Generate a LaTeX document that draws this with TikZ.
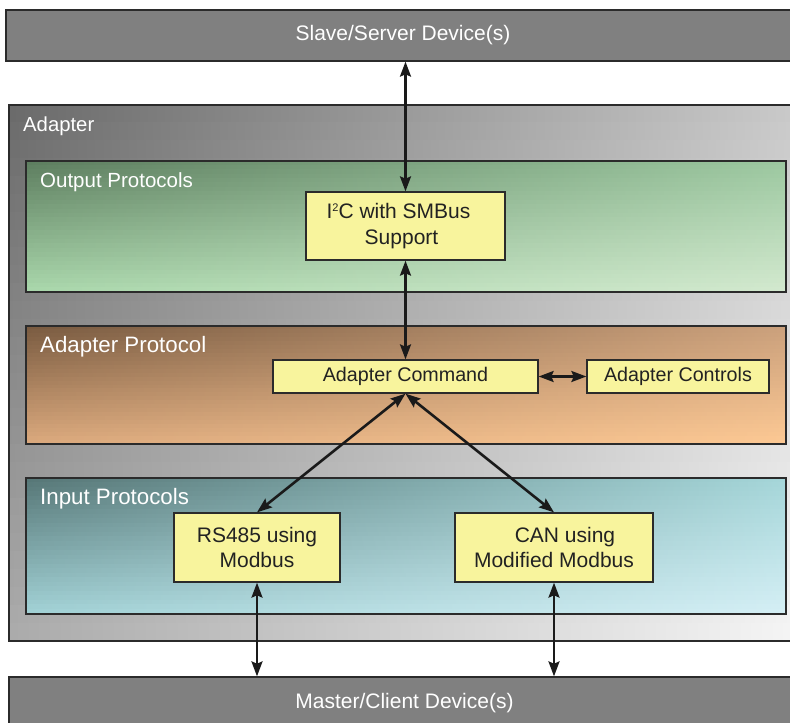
\documentclass[tikz,border=0pt]{standalone}
\usepackage{fontspec}
\setmainfont{Liberation Sans}
\usetikzlibrary{arrows.meta}
\definecolor{edge}{HTML}{2B2B2B}
\definecolor{bargray}{HTML}{808080}
\definecolor{boxyellow}{HTML}{F8F49D}
\definecolor{arrowc}{HTML}{1A1A1A}
\definecolor{txtdark}{HTML}{222222}
% corner colours of the shaded panels
\definecolor{adTL}{RGB}{106,106,106}\definecolor{adTR}{RGB}{202,202,202}
\definecolor{adBL}{RGB}{172,172,172}\definecolor{adBR}{RGB}{246,246,246}
\definecolor{gTL}{RGB}{93,125,95}\definecolor{gTR}{RGB}{156,200,160}
\definecolor{gBL}{RGB}{170,216,172}\definecolor{gBR}{RGB}{211,233,207}
\definecolor{bTL}{RGB}{120,90,64}\definecolor{bTR}{RGB}{202,160,124}
\definecolor{bBL}{RGB}{220,170,126}\definecolor{bBR}{RGB}{253,201,148}
\definecolor{tTL}{RGB}{86,118,118}\definecolor{tTR}{RGB}{165,214,217}
\definecolor{tBL}{RGB}{162,210,214}\definecolor{tBR}{RGB}{213,239,245}
% bilinear panel shading built from thin horizontal strips
% #1 x0, #2 y0, #3 x1, #4 y1, #5 TL, #6 TR, #7 BL, #8 BR
\newcommand\shadepanel[8]{%
  \foreach \i in {0,...,29}{%
    \pgfmathsetmacro\ya{#2+(#4-#2)*\i/30}%
    \pgfmathsetmacro\yb{#2+(#4-#2)*(\i+1)/30+0.6}%
    \pgfmathtruncatemacro\pp{(\i+0.5)*100/30}%
    \path[left color=#7!\pp!#5, right color=#8!\pp!#6] (#1,\ya) rectangle (#3,\yb);
  }}
\begin{document}
\begin{tikzpicture}[x=1pt,y=-1pt,
  region/.style={draw=edge, line width=1.3pt, inner sep=0pt, anchor=center},
  bar/.style={region, fill=bargray, text=white, font=\fontsize{21}{25}\selectfont},
  ybox/.style={draw=edge, fill=boxyellow, line width=1.3pt, inner sep=0pt, align=center, text=txtdark},
  lbl/.style={anchor=west, text=white, inner sep=0pt},
  conn/.style={draw=arrowc, line width=2.6pt, {Stealth[length=15pt,width=11pt,inset=2.5pt]}-{Stealth[length=15pt,width=11pt,inset=2.5pt]}}
]
\useasboundingbox (0,0) rectangle (790,723);
\clip (0,0) rectangle (790,723);
\fill[white] (0,0) rectangle (790,723);

% bars
\node[bar, minimum width=794pt, minimum height=51pt] (top) at (403,35.5) {Slave/Server Device(s)};
\node[bar, minimum width=791pt, minimum height=52pt] (bot) at (404.5,703) {Master/Client Device(s)};

% adapter
\shadepanel{9}{105}{800}{641}{adTL}{adTR}{adBL}{adBR}
\node[region, minimum width=791pt, minimum height=536pt] (adapter) at (404.5,373) {};
\node[lbl, font=\fontsize{20.3}{24}\selectfont] (adlbl) at (23,126) {Adapter};

% output protocols
\shadepanel{26}{161}{786}{292}{gTL}{gTR}{gBL}{gBR}
\node[region, minimum width=760pt, minimum height=131pt] (outp) at (406,226.5) {};
\node[lbl, font=\fontsize{20.5}{24}\selectfont] (outlbl) at (40,182) {Output Protocols};

% adapter protocol
\shadepanel{26}{326}{786}{444}{bTL}{bTR}{bBL}{bBR}
\node[region, minimum width=760pt, minimum height=118pt] (adp) at (406,385) {};
\node[lbl, font=\fontsize{22.3}{26}\selectfont] (adplbl) at (40,347) {Adapter Protocol};

% input protocols
\shadepanel{26}{478}{786}{614}{tTL}{tTR}{tBL}{tBR}
\node[region, minimum width=760pt, minimum height=136pt] (inp) at (406,546) {};
\node[lbl, font=\fontsize{22.3}{26}\selectfont] (inplbl) at (40,499) {Input Protocols};

% yellow boxes
\node[ybox, minimum width=199pt, minimum height=68pt, font=\fontsize{21}{26}\selectfont] (i2c) at (405.5,226) {I\raisebox{6.5pt}{\fontsize{11}{11}\selectfont 2}C with SMBus\hspace*{14pt}\\Support\hspace*{8pt}};
\node[ybox, minimum width=265pt, minimum height=33pt, font=\fontsize{19.7}{24}\selectfont] (cmd) at (405.5,376.5) {Adapter Command};
\node[ybox, minimum width=182pt, minimum height=33pt, font=\fontsize{19.7}{24}\selectfont] (ctrl) at (678,376.5) {Adapter Controls};
\node[ybox, minimum width=166pt, minimum height=69pt, font=\fontsize{21}{25}\selectfont] (rs) at (257,547.5) {RS485 using\\Modbus};
\node[ybox, minimum width=198pt, minimum height=69pt, font=\fontsize{21}{25}\selectfont] (can) at (554,547.5) {\hspace*{22pt}CAN using\\Modified Modbus};

% connectors
\draw[conn] (i2c.north |- top.south) -- (i2c.north);
\draw[conn] (i2c.south) -- (cmd.north);
\draw[conn] (cmd.east) -- (ctrl.west);
\draw[conn] (cmd.south) -- (rs.north);
\draw[conn] (cmd.south) -- (can.north);
\draw[conn] (rs.south) -- (rs.south |- bot.north);
\draw[conn] (can.south) -- (can.south |- bot.north);
\end{tikzpicture}
\end{document}
